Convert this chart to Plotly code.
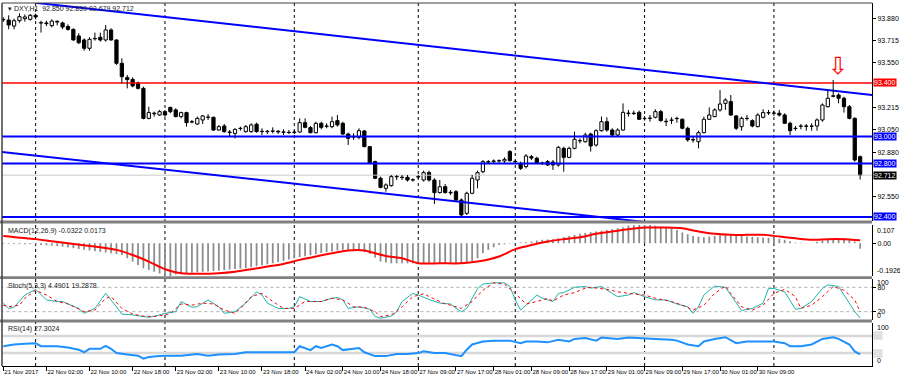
import plotly.graph_objects as go

# ---------------- data ----------------
opens = [93.875, 93.870, 93.825, 93.865, 93.880, 93.875, 93.905, 93.848, 93.848, 93.828,
         93.860, 93.848, 93.822, 93.800, 93.751, 93.721, 93.659, 93.730, 93.741, 93.721,
         93.796, 93.721, 93.547, 93.440, 93.427, 93.398, 93.360, 93.136, 93.170, 93.161,
         93.186, 93.218, 93.199, 93.149, 93.179, 93.108, 93.094, 93.124, 93.146, 93.144,
         93.049, 93.079, 93.034, 93.024, 93.062, 93.037, 93.037, 93.092, 93.040, 93.037,
         93.040, 93.040, 93.035, 93.032, 93.030, 93.034, 93.104, 93.067, 93.029, 93.099,
         93.077, 93.074, 93.119, 93.099, 93.019, 92.997, 92.995, 93.042, 92.925, 92.813,
         92.689, 92.614, 92.634, 92.700, 92.697, 92.696, 92.678, 92.698, 92.676, 92.731,
         92.676, 92.582, 92.626, 92.584, 92.589, 92.527, 92.427, 92.577, 92.676, 92.738,
         92.810, 92.815, 92.818, 92.818, 92.888, 92.815, 92.800, 92.776, 92.850, 92.838,
         92.802, 92.813, 92.810, 92.788, 92.912, 92.845, 92.912, 92.968, 92.962, 93.019,
         92.937, 93.044, 93.111, 93.049, 93.012, 93.049, 93.172, 93.175, 93.181, 93.134,
         93.136, 93.144, 93.186, 93.114, 93.121, 93.134, 93.129, 93.062, 92.977, 92.962,
         93.029, 93.129, 93.149, 93.199, 93.248, 93.261, 93.154, 93.074, 93.134, 93.119,
         93.074, 93.144, 93.177, 93.176, 93.174, 93.161, 93.099, 93.060, 93.077, 93.079,
         93.077, 93.079, 93.124, 93.223, 93.300, 93.310, 93.286, 93.223, 93.136, 92.850]
highs = [93.890, 93.905, 93.880, 93.920, 93.912, 93.915, 93.918, 93.865, 93.865, 93.875,
         93.868, 93.858, 93.838, 93.808, 93.771, 93.733, 93.741, 93.776, 93.776, 93.833,
         93.808, 93.726, 93.584, 93.460, 93.442, 93.410, 93.373, 93.223, 93.186, 93.199,
         93.199, 93.223, 93.211, 93.186, 93.186, 93.124, 93.149, 93.161, 93.169, 93.149,
         93.087, 93.094, 93.049, 93.062, 93.074, 93.087, 93.099, 93.104, 93.062, 93.049,
         93.069, 93.049, 93.054, 93.049, 93.049, 93.136, 93.136, 93.079, 93.111, 93.111,
         93.099, 93.149, 93.161, 93.111, 93.029, 93.024, 93.062, 93.049, 92.930, 92.820,
         92.701, 92.651, 92.713, 92.713, 92.713, 92.713, 92.689, 92.713, 92.746, 92.746,
         92.689, 92.676, 92.646, 92.601, 92.601, 92.539, 92.589, 92.713, 92.746, 92.825,
         92.825, 92.830, 92.830, 92.845, 92.900, 92.825, 92.813, 92.870, 92.863, 92.850,
         92.813, 92.825, 92.825, 92.930, 92.925, 92.925, 93.037, 92.987, 93.029, 93.029,
         93.054, 93.149, 93.144, 93.062, 93.062, 93.248, 93.199, 93.194, 93.194, 93.154,
         93.161, 93.204, 93.199, 93.136, 93.144, 93.149, 93.136, 93.074, 92.999, 93.044,
         93.149, 93.218, 93.211, 93.348, 93.286, 93.310, 93.161, 93.149, 93.161, 93.129,
         93.174, 93.204, 93.199, 93.194, 93.199, 93.174, 93.111, 93.079, 93.094, 93.094,
         93.099, 93.136, 93.248, 93.353, 93.422, 93.323, 93.298, 93.236, 93.144, 92.859]
lows = [93.855, 93.801, 93.801, 93.850, 93.858, 93.865, 93.875, 93.776, 93.825, 93.815,
        93.830, 93.802, 93.790, 93.716, 93.690, 93.641, 93.641, 93.716, 93.709, 93.709,
        93.716, 93.535, 93.398, 93.360, 93.368, 93.352, 93.129, 93.129, 93.149, 93.154,
        93.149, 93.174, 93.144, 93.136, 93.074, 93.099, 93.087, 93.094, 93.124, 93.044,
        93.044, 93.029, 93.004, 92.987, 93.044, 93.029, 93.029, 93.029, 93.012, 93.019,
        93.024, 93.019, 93.012, 93.019, 93.019, 93.029, 93.062, 93.024, 93.024, 93.054,
        93.062, 93.062, 93.074, 93.012, 92.937, 92.975, 92.980, 92.920, 92.795, 92.682,
        92.614, 92.589, 92.626, 92.676, 92.676, 92.664, 92.664, 92.684, 92.664, 92.664,
        92.497, 92.575, 92.575, 92.564, 92.515, 92.407, 92.415, 92.570, 92.614, 92.726,
        92.795, 92.800, 92.805, 92.805, 92.813, 92.800, 92.751, 92.763, 92.825, 92.795,
        92.788, 92.781, 92.751, 92.776, 92.738, 92.838, 92.905, 92.950, 92.955, 92.888,
        92.925, 93.037, 93.037, 92.999, 93.004, 93.044, 93.149, 93.161, 93.124, 93.119,
        93.111, 93.136, 93.111, 93.079, 93.094, 93.104, 93.054, 92.962, 92.955, 92.912,
        93.024, 93.124, 93.144, 93.186, 93.199, 93.154, 93.049, 93.044, 93.119, 93.069,
        93.069, 93.136, 93.161, 93.154, 93.149, 93.094, 93.012, 93.044, 93.054, 93.044,
        93.044, 93.044, 93.111, 93.218, 93.293, 93.248, 93.179, 93.129, 92.813, 92.679]
closes = [93.872, 93.833, 93.865, 93.895, 93.893, 93.905, 93.893, 93.850, 93.843, 93.862,
          93.855, 93.818, 93.800, 93.721, 93.701, 93.659, 93.726, 93.733, 93.721, 93.796,
          93.721, 93.547, 93.447, 93.425, 93.378, 93.360, 93.136, 93.179, 93.175, 93.186,
          93.161, 93.186, 93.149, 93.179, 93.104, 93.111, 93.136, 93.154, 93.144, 93.049,
          93.074, 93.037, 93.030, 93.054, 93.060, 93.074, 93.087, 93.037, 93.037, 93.040,
          93.042, 93.035, 93.032, 93.030, 93.034, 93.104, 93.069, 93.029, 93.099, 93.069,
          93.079, 93.111, 93.087, 93.019, 92.987, 93.000, 93.044, 92.925, 92.800, 92.689,
          92.621, 92.639, 92.701, 92.703, 92.694, 92.676, 92.676, 92.701, 92.731, 92.676,
          92.582, 92.626, 92.582, 92.580, 92.527, 92.415, 92.577, 92.689, 92.731, 92.813,
          92.813, 92.818, 92.820, 92.830, 92.820, 92.812, 92.763, 92.855, 92.840, 92.800,
          92.800, 92.788, 92.788, 92.920, 92.845, 92.912, 92.980, 92.970, 93.012, 92.930,
          93.044, 93.111, 93.049, 93.012, 93.049, 93.181, 93.175, 93.172, 93.129, 93.136,
          93.138, 93.186, 93.119, 93.111, 93.124, 93.136, 93.062, 92.975, 92.975, 93.029,
          93.129, 93.161, 93.199, 93.243, 93.273, 93.161, 93.062, 93.136, 93.136, 93.079,
          93.161, 93.179, 93.179, 93.174, 93.161, 93.099, 93.044, 93.062, 93.079, 93.077,
          93.079, 93.124, 93.236, 93.286, 93.305, 93.286, 93.223, 93.136, 92.825, 92.712]

macd_hist = [-0.004, -0.004, -0.005, -0.005, -0.006, -0.006, -0.007, -0.010, -0.012, -0.014,
             -0.016, -0.020, -0.024, -0.029, -0.034, -0.039, -0.043, -0.047, -0.051, -0.055,
             -0.059, -0.064, -0.069, -0.088, -0.108, -0.128, -0.147, -0.157, -0.167, -0.178,
             -0.186, -0.1926, -0.184, -0.180, -0.176, -0.173, -0.171, -0.168, -0.166, -0.163,
             -0.161, -0.158, -0.155, -0.152, -0.149, -0.147, -0.141, -0.135, -0.129, -0.124,
             -0.118, -0.111, -0.104, -0.096, -0.089, -0.082, -0.076, -0.070, -0.064, -0.058,
             -0.053, -0.048, -0.043, -0.039, -0.040, -0.041, -0.043, -0.052, -0.063, -0.085,
             -0.108, -0.113, -0.118, -0.118, -0.117, -0.118, -0.118, -0.117, -0.118, -0.118,
             -0.118, -0.119, -0.120, -0.120, -0.121, -0.122, -0.118, -0.108, -0.088, -0.059,
             -0.039, -0.024, -0.010, -0.006, -0.002, 0.000, 0.004, 0.006, 0.010, 0.016,
             0.020, 0.022, 0.024, 0.029, 0.036, 0.043, 0.049, 0.055, 0.060, 0.065,
             0.069, 0.074, 0.078, 0.083, 0.088, 0.092, 0.104, 0.106, 0.107, 0.107,
             0.107, 0.103, 0.098, 0.091, 0.085, 0.078, 0.063, 0.053, 0.043, 0.039,
             0.035, 0.039, 0.043, 0.045, 0.047, 0.049, 0.046, 0.042, 0.039, 0.037,
             0.035, 0.033, 0.031, 0.029, 0.025, 0.020, 0.012, 0.004, 0.002, 0.001,
             0.000, 0.008, 0.016, 0.020, 0.025, 0.029, 0.027, 0.024, 0.010, -0.0322]

macd_sig_bar = [0, 6, 12, 18, 21, 24, 27, 30, 33, 37, 40, 43, 46, 49, 52, 55, 58, 61, 64, 67,
                71, 74, 77, 81, 85, 88, 92, 95, 98, 101, 104, 107, 110, 113, 116, 119, 123,
                126, 129, 132, 135, 138, 141, 144, 147, 150, 153, 156, 159]
macd_sig = [0.043, 0.024, 0.000, -0.024, -0.039, -0.069, -0.108, -0.153, -0.176, -0.180,
            -0.176, -0.167, -0.153, -0.137, -0.122, -0.098, -0.078, -0.059, -0.043, -0.043,
            -0.075, -0.088, -0.118, -0.118, -0.118, -0.108, -0.078, -0.035, -0.010, 0.010,
            0.024, 0.035, 0.055, 0.069, 0.082, 0.092, 0.092, 0.088, 0.069, 0.055,
            0.049, 0.049, 0.049, 0.039, 0.029, 0.020, 0.024, 0.024, 0.0173]

stoch_k_bar = [0, 1, 2, 3, 4, 6, 8, 10, 11, 14, 15, 17, 19, 21, 22, 24, 26, 27, 29, 30,
               32, 33, 35, 36, 38, 40, 41, 43, 45, 47, 48, 49, 51, 53, 54, 55, 57, 59, 61, 62,
               63, 64, 66, 68, 69, 70, 72, 73, 74, 76, 77, 79, 81, 83, 84, 85, 86, 87, 88, 89,
               91, 93, 94, 95, 96, 97, 99, 100, 101, 102, 103, 104, 106, 108, 109, 111, 113, 114, 116, 117,
               119, 121, 123, 125, 127, 128, 129, 130, 132, 134, 135, 136, 137, 139, 141, 142, 143, 145, 146, 147,
               148, 150, 152, 153, 155, 156, 158, 159]
stoch_k = [41, 28, 31, 45, 61, 75, 49, 45, 45, 28, 16, 28, 65, 32, 14, 12, 8, 6, 12, 16,
           20, 45, 31, 32, 49, 32, 16, 20, 41, 69, 61, 41, 28, 28, 32, 57, 45, 45, 53, 55,
           49, 28, 32, 26, 8, 4, 9, 20, 45, 65, 61, 50, 41, 39, 28, 20, 28, 53, 77, 88,
           91, 91, 82, 49, 24, 36, 61, 53, 49, 45, 65, 67, 80, 82, 78, 82, 65, 57, 61, 67,
           57, 49, 49, 39, 32, 16, 32, 61, 83, 80, 61, 41, 23, 28, 41, 77, 77, 69, 49, 26,
           28, 45, 77, 86, 82, 61, 20, 4.49]

stoch_d_bar = [0, 1, 3, 4, 6, 8, 10, 12, 15, 17, 19, 20, 22, 24, 26, 28, 30, 31, 33, 35,
               37, 39, 41, 43, 44, 46, 48, 50, 52, 54, 56, 57, 59, 61, 63, 65, 67, 69, 70, 72,
               74, 76, 78, 80, 82, 83, 85, 87, 89, 91, 93, 95, 97, 99, 101, 102, 104, 106, 108, 109,
               112, 114, 116, 119, 121, 124, 126, 128, 130, 132, 134, 135, 137, 139, 141, 143, 145, 147, 148, 150,
               152, 154, 156, 158, 159]
stoch_d = [36, 32, 36, 53, 73, 61, 45, 39, 20, 24, 53, 57, 28, 14, 9, 8, 12, 16, 39, 36,
           41, 39, 24, 16, 28, 57, 65, 45, 28, 28, 45, 45, 45, 53, 49, 32, 31, 20, 8, 12,
           32, 57, 64, 51, 39, 36, 28, 45, 73, 91, 88, 65, 39, 45, 53, 46, 61, 67, 78, 80,
           75, 69, 65, 61, 53, 45, 36, 24, 36, 65, 83, 65, 32, 24, 36, 65, 75, 57, 28, 36,
           57, 82, 73, 49, 19.29]

rsi_bar = [0, 2, 4, 6, 7, 9, 10, 12, 14, 15, 16, 18, 19, 20, 21, 23, 25, 26, 27, 29,
           30, 33, 36, 38, 40, 43, 45, 49, 54, 55, 56, 57, 58, 59, 61, 62, 63, 65, 66, 67,
           68, 69, 71, 73, 75, 77, 78, 80, 82, 83, 85, 86, 87, 89, 91, 94, 96, 97, 99, 101,
           103, 105, 106, 108, 110, 111, 114, 116, 119, 121, 124, 125, 127, 129, 130, 132, 134, 136, 138, 140,
           143, 145, 146, 148, 150, 152, 154, 155, 157, 158, 159]
rsi = [46, 50, 52, 53, 46, 47, 46, 43, 38, 32, 40, 40, 47, 40, 30, 27, 24, 17, 21, 23,
       24, 24, 28, 24, 27, 28, 32, 32, 32, 46, 42, 37, 46, 42, 50, 46, 37, 40, 42, 32,
       27, 23, 23, 28, 28, 30, 34, 30, 30, 28, 23, 38, 50, 57, 59, 59, 53, 57, 57, 55,
       61, 57, 63, 65, 59, 66, 63, 66, 65, 63, 61, 59, 50, 46, 57, 63, 67, 53, 57, 57,
       57, 53, 46, 46, 50, 63, 67, 63, 50, 34, 27.3]

# time scale labels (bar index -> text)
time_tick_bars = [0, 8, 16, 24, 32, 40, 48, 56, 63, 70, 77, 84, 91, 98, 105, 112, 119, 126, 133, 140]
time_tick_text = ["21 Nov 2017", "22 Nov 02:00", "22 Nov 10:00", "22 Nov 18:00", "23 Nov 02:00",
                  "23 Nov 10:00", "23 Nov 18:00", "24 Nov 02:00", "24 Nov 10:00", "24 Nov 18:00",
                  "27 Nov 09:00", "27 Nov 17:00", "28 Nov 01:00", "28 Nov 09:00", "28 Nov 17:00",
                  "29 Nov 01:00", "29 Nov 09:00", "29 Nov 17:00", "30 Nov 01:00", "30 Nov 09:00"]
separator_bars = [6, 30, 54, 77, 95, 119, 143]

price_ticks = [93.880, 93.715, 93.550, 93.215, 93.050, 92.880, 92.550]
level_red = 93.400
levels_blue = [93.000, 92.800, 92.400]
last_price = 92.712
upper_channel_bar = [5.9, 162.0]
upper_channel_price = [93.999, 93.307]
lower_channel_bar = [-1.0, 130.0]
lower_channel_price = [92.889, 92.315]
arrow_point = (154.9, 93.527)

title_text = "DXY,H1  92.850 92.859 92.679 92.712"
macd_text = "MACD(12,26,9) -0.0322 0.0173"
stoch_text = "Stoch(5,3,3) 4.4901 19.2878"
rsi_text = "RSI(14) 27.3024"

# ---------------- figure ----------------
FONT = "Liberation Sans, Arial, sans-serif"
n = len(closes)
bars = list(range(n))

fig = go.Figure()

# horizontal levels (behind candles)
fig.add_trace(go.Scatter(x=[-5, 170], y=[last_price, last_price], mode="lines",
                         line=dict(color="#c8c8c8", width=1), hoverinfo="skip", yaxis="y"))
for lv in levels_blue:
    fig.add_trace(go.Scatter(x=[-5, 170], y=[lv, lv], mode="lines",
                             line=dict(color="#0000ff", width=2), hoverinfo="skip", yaxis="y"))
fig.add_trace(go.Scatter(x=[-5, 170], y=[level_red, level_red], mode="lines",
                         line=dict(color="#ff0000", width=1.5), hoverinfo="skip", yaxis="y"))
fig.add_trace(go.Scatter(x=upper_channel_bar, y=upper_channel_price, mode="lines",
                         line=dict(color="#0000ff", width=2), hoverinfo="skip", yaxis="y"))
fig.add_trace(go.Scatter(x=lower_channel_bar, y=lower_channel_price, mode="lines",
                         line=dict(color="#0000ff", width=2), hoverinfo="skip", yaxis="y"))

# candle wicks (split so they don't cross bodies)
wx, wy = [], []
for i, (o, h, l, c) in enumerate(zip(opens, highs, lows, closes)):
    top, bot = max(o, c), min(o, c)
    wx += [i, i, None, i, i, None]
    wy += [h, top, None, bot, l, None]
fig.add_trace(go.Scatter(x=wx, y=wy, mode="lines", line=dict(color="black", width=1),
                         hoverinfo="skip", yaxis="y"))

up = [i for i in bars if closes[i] >= opens[i]]
dn = [i for i in bars if closes[i] < opens[i]]
fig.add_trace(go.Bar(x=up, y=[max(closes[i] - opens[i], 0.0015) for i in up],
                     base=[opens[i] for i in up], width=0.6, yaxis="y",
                     marker=dict(color="white", line=dict(color="black", width=1))))
fig.add_trace(go.Bar(x=dn, y=[max(opens[i] - closes[i], 0.0015) for i in dn],
                     base=[closes[i] for i in dn], width=0.6, yaxis="y",
                     marker=dict(color="black", line=dict(color="black", width=1))))

# MACD
fig.add_trace(go.Bar(x=bars, y=macd_hist, width=0.33, yaxis="y2",
                     marker=dict(color="#8c8c8c", line=dict(width=0))))
fig.add_trace(go.Scatter(x=macd_sig_bar, y=macd_sig, mode="lines", yaxis="y2",
                         line=dict(color="#ff0000", width=2, shape="spline", smoothing=0.6)))

# Stochastic
for lv in (80, 20):
    fig.add_trace(go.Scatter(x=[-5, 170], y=[lv, lv], mode="lines", yaxis="y3",
                             line=dict(color="#b0b0b0", width=1, dash="dot"), hoverinfo="skip"))
fig.add_trace(go.Scatter(x=stoch_k_bar, y=stoch_k, mode="lines", yaxis="y3",
                         line=dict(color="#20b2aa", width=1)))
fig.add_trace(go.Scatter(x=stoch_d_bar, y=stoch_d, mode="lines", yaxis="y3",
                         line=dict(color="#ff0000", width=1, dash="dot")))

# RSI
for lv in (70, 30):
    fig.add_trace(go.Scatter(x=[-5, 170], y=[lv, lv], mode="lines", yaxis="y4",
                             line=dict(color="#d8d8d8", width=2.5), hoverinfo="skip"))
fig.add_trace(go.Scatter(x=rsi_bar, y=rsi, mode="lines", yaxis="y4",
                         line=dict(color="#1e90ff", width=2)))

# layout geometry in pixels
W, H = 900, 381
ml, mr, mt, mb = 2, 28, 3, 15
ph = H - mt - mb
def py(y):
    return (H - mb - y) / ph

axis_common = dict(side="right", showgrid=False, zeroline=False, showline=True,
                   linecolor="black", linewidth=1, ticks="outside", ticklen=3,
                   tickcolor="black", tickfont=dict(family=FONT, size=7, color="black"),
                   anchor="x", fixedrange=True)

fig.update_layout(
    width=W, height=H, margin=dict(l=ml, r=mr, t=mt, b=mb, autoexpand=False),
    paper_bgcolor="white", plot_bgcolor="rgba(0,0,0,0)",
    showlegend=False, barmode="overlay", hovermode=False,
    xaxis=dict(domain=[0, 1], range=[-0.24, 161.2], anchor="y4", showgrid=False,
               zeroline=False, showline=True, linecolor="black", ticks="outside",
               ticklen=4, tickcolor="black", tickvals=time_tick_bars, ticktext=time_tick_text,
               ticklabelposition="outside right", tickangle=0, automargin=False,
               fixedrange=True, tickfont=dict(family=FONT, size=6, color="black")),
    yaxis=dict(domain=[py(221), py(3)], range=[92.370, 93.997], automargin=False,
               tickvals=price_ticks, ticktext=["%.3f" % v for v in price_ticks], **axis_common),
    yaxis2=dict(domain=[py(276), py(225)], range=[-0.1926, 0.107], automargin=False,
                tickvals=[0], ticktext=["0.00"], **axis_common),
    yaxis3=dict(domain=[py(319.8), py(279.2)], range=[0, 100], automargin=False,
                tickvals=[80, 20], ticktext=["80", "20"], **axis_common),
    yaxis4=dict(domain=[py(366), py(323)], range=[0, 100], automargin=False,
                tickvals=[], **axis_common),
)

shapes = []
# vertical dotted grid
for b in separator_bars:
    shapes.append(dict(type="line", xref="x", yref="paper", x0=b, x1=b, y0=0, y1=1,
                       line=dict(color="black", width=1, dash="dot"), layer="below"))
# panel separators
for y0, y1 in [(220.5, 223.5), (276.3, 279.0), (319.6, 322.4)]:
    shapes.append(dict(type="rect", xref="paper", yref="paper", x0=-0.01, x1=1.0,
                       y0=py(y1), y1=py(y0), fillcolor="#808080", line=dict(width=0),
                       layer="above"))
# frame
shapes.append(dict(type="line", xref="paper", yref="paper", x0=0, x1=0, y0=0, y1=1,
                   line=dict(color="#404040", width=1.5), layer="above"))
shapes.append(dict(type="line", xref="paper", yref="paper", x0=0, x1=1, y0=1, y1=1,
                   line=dict(color="#404040", width=1), layer="above"))
fig.update_layout(shapes=shapes)

ann = []
def label(text, y, yref, bg, fc="white"):
    ann.append(dict(text=text, x=1, xref="paper", xanchor="left", xshift=1, y=y, yref=yref,
                    showarrow=False, bgcolor=bg, borderpad=0,
                    font=dict(family=FONT, size=7, color=fc)))
label("93.400", level_red, "y", "#ff0000")
for lv in levels_blue:
    label("%.3f" % lv, lv, "y", "#0000ff")
label("%.3f" % last_price, last_price, "y", "#000000")
label("70", 70, "y4", "#d8d8d8", "#f4f4f4")
label("30", 30, "y4", "#d8d8d8", "#f4f4f4")

def edge(text, y, yref, anchor, dy=0):
    ann.append(dict(text=text, x=1, xref="paper", xanchor="left", xshift=3, y=y, yref=yref,
                    yanchor=anchor, yshift=dy, showarrow=False,
                    font=dict(family=FONT, size=7, color="black")))
edge("0.107", 0.107, "y2", "top")
edge("-0.1926", -0.1926, "y2", "bottom")
edge("100", 100, "y3", "top", 2)
edge("0", 0, "y3", "bottom", -1)
edge("100", 100, "y4", "top", 1)
edge("0", 0, "y4", "bottom")

def caption(text, ytop):
    ann.append(dict(text=text, x=0, xref="paper", xanchor="left", xshift=4, y=py(ytop),
                    yref="paper", yanchor="top", showarrow=False,
                    font=dict(family=FONT, size=7, color="#202020")))
caption("\u25be " + title_text, 3)
caption(macd_text, 225)
caption(stoch_text, 280)
caption(rsi_text, 323)

ann.append(dict(text="\u21e9", x=arrow_point[0], y=arrow_point[1], xref="x", yref="y",
                showarrow=False, font=dict(family="DejaVu Sans", size=24, color="#ff0000")))
fig.update_layout(annotations=ann)

fig.write_html("out.html", config={"displayModeBar": False, "staticPlot": True},
               post_script="document.body.style.margin='0px';"
               "document.body.style.overflow='hidden';")
